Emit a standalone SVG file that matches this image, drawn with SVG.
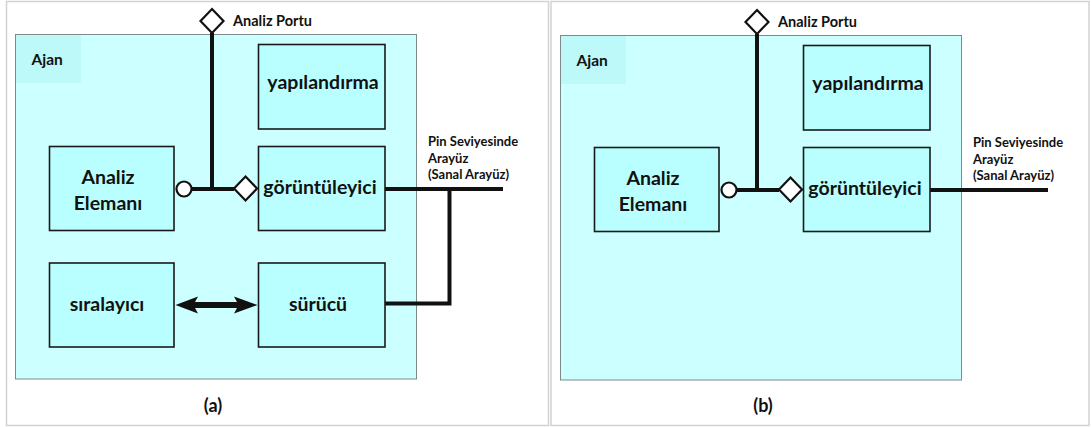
<svg xmlns="http://www.w3.org/2000/svg" width="1091" height="427" viewBox="0 0 1091 427">
  <style>
    .frame { fill: #ffffff; stroke: #d2d2d2; stroke-width: 1.5; }
    .agent { fill: #ccffff; stroke: #7c8a8a; stroke-width: 1; }
    .tag { fill: #bdf9f9; }
    .box { fill: #b9ffff; stroke: #1a1a1a; stroke-width: 1.6; }
    .wire { fill: none; stroke: #111111; stroke-width: 4; }
    .port { fill: #ffffff; stroke: #111111; stroke-width: 2.2; }
    .t { font-family: Lato, "Liberation Sans", sans-serif; font-weight: bold; fill: #111111; }
    .big { font-size: 19.5px; text-anchor: middle; }
    .small { font-size: 13px; }
    .mid { font-size: 14.5px; }
    .cap { font-size: 18px; text-anchor: middle; }
  </style>

  <!-- panel frames -->
  <rect class="frame" x="6.5" y="1.5" width="542" height="424"/>
  <rect class="frame" x="551" y="1.5" width="538" height="424"/>

  <!-- ===== panel (a) ===== -->
  <g id="agent-a">
    <rect class="agent" x="15.5" y="34.5" width="401" height="344.5"/>
    <rect class="tag" x="16" y="35" width="65" height="48"/>
    <text class="t" x="31.5" y="65" font-size="15.5">Ajan</text>
  </g>

  <g id="connectors-a">
    <line class="wire" x1="212" y1="33" x2="212" y2="189"/>
    <line class="wire" x1="191" y1="189" x2="234" y2="189"/>
    <line class="wire" x1="385" y1="189" x2="503" y2="189"/>
    <polyline class="wire" points="385,303.5 449.5,303.5 449.5,189"/>
    <path fill="#111111" d="M175.5,305 L198,296.5 L195,302 L237,302 L234,296.5 L257.5,305 L234,313.5 L237,308 L195,308 L198,313.5 Z"/>
  </g>

  <g id="analysis-port-a">
    <path class="port" d="M212,9 L223.5,21 L212,33 L200.5,21 Z"/>
    <text class="t mid" x="233" y="25.5">Analiz Portu</text>
  </g>

  <g id="config-a">
    <rect class="box" x="258.5" y="44.5" width="126.5" height="84.5"/>
    <text class="t big" x="323" y="88.5">yapılandırma</text>
  </g>

  <g id="analysis-element-a">
    <rect class="box" x="49.5" y="146.5" width="124.5" height="84"/>
    <text class="t big" x="108" y="184">Analiz</text>
    <text class="t big" x="108" y="209.5">Elemanı</text>
    <circle class="port" cx="184" cy="189" r="7.5"/>
  </g>

  <g id="monitor-a">
    <rect class="box" x="258.5" y="146.5" width="126.5" height="84"/>
    <text class="t big" x="320" y="193.5">görüntüleyici</text>
    <path class="port" d="M245.5,176.5 L257,188.5 L245.5,200.5 L234,188.5 Z"/>
  </g>

  <g id="sequencer-a">
    <rect class="box" x="49.5" y="263" width="124.5" height="84"/>
    <text class="t big" x="107" y="311">sıralayıcı</text>
  </g>

  <g id="driver-a">
    <rect class="box" x="258.5" y="263" width="126.5" height="84"/>
    <text class="t big" x="318" y="311">sürücü</text>
  </g>

  <g id="pin-label-a">
    <text class="t small" x="428" y="146">Pin Seviyesinde</text>
    <text class="t small" x="428" y="162.5">Arayüz</text>
    <text class="t small" x="428" y="179">(Sanal Arayüz)</text>
  </g>

  <text class="t cap" x="213" y="412">(a)</text>

  <!-- ===== panel (b) ===== -->
  <g transform="translate(545,1)">
    <g id="agent-b">
      <rect class="agent" x="15.5" y="34.5" width="401" height="344.5"/>
      <rect class="tag" x="16" y="35" width="65" height="48"/>
      <text class="t" x="31.5" y="65" font-size="15.5">Ajan</text>
    </g>

    <g id="connectors-b">
      <line class="wire" x1="212" y1="33" x2="212" y2="189"/>
      <line class="wire" x1="191" y1="189" x2="234" y2="189"/>
      <line class="wire" x1="385" y1="189" x2="503" y2="189"/>
    </g>

    <g id="analysis-port-b">
      <path class="port" d="M212,9 L223.5,21 L212,33 L200.5,21 Z"/>
      <text class="t mid" x="233" y="25.5">Analiz Portu</text>
    </g>

    <g id="config-b">
      <rect class="box" x="258.5" y="44.5" width="126.5" height="84.5"/>
      <text class="t big" x="323" y="88.5">yapılandırma</text>
    </g>

    <g id="analysis-element-b">
      <rect class="box" x="49.5" y="146.5" width="124.5" height="84"/>
      <text class="t big" x="108" y="184">Analiz</text>
      <text class="t big" x="108" y="209.5">Elemanı</text>
      <circle class="port" cx="184" cy="189" r="7.5"/>
    </g>

    <g id="monitor-b">
      <rect class="box" x="258.5" y="146.5" width="126.5" height="84"/>
      <text class="t big" x="320" y="193.5">görüntüleyici</text>
      <path class="port" d="M245.5,176.5 L257,188.5 L245.5,200.5 L234,188.5 Z"/>
    </g>

    <g id="pin-label-b">
      <text class="t small" x="428" y="146">Pin Seviyesinde</text>
      <text class="t small" x="428" y="162.5">Arayüz</text>
      <text class="t small" x="428" y="179">(Sanal Arayüz)</text>
    </g>

    <text class="t cap" x="218" y="411">(b)</text>
  </g>
</svg>
